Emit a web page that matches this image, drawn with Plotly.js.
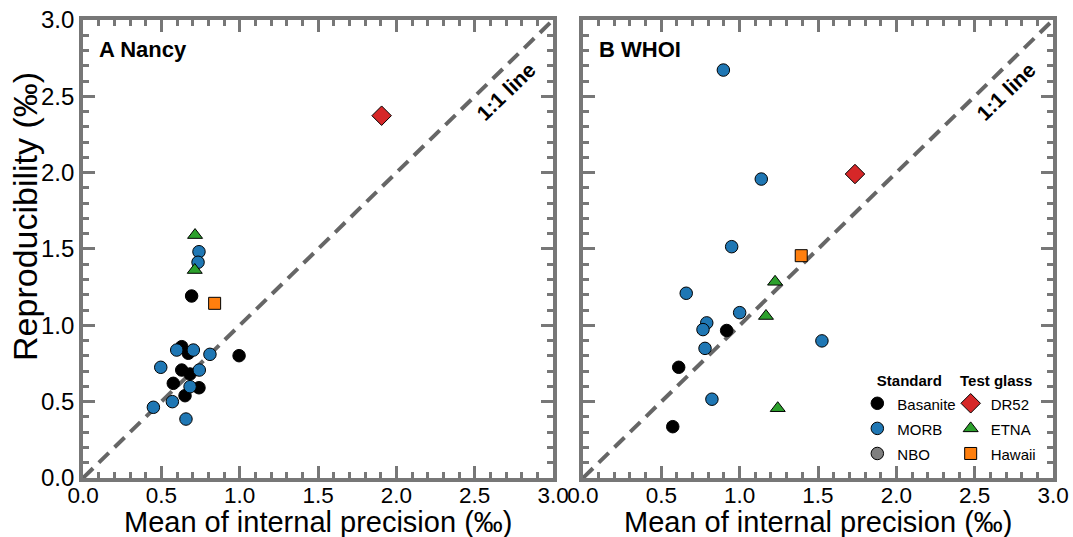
<!DOCTYPE html>
<html>
<head>
<meta charset="utf-8">
<script src="https://cdn.plot.ly/plotly-3.0.1.min.js"></script>
<style>html,body{margin:0;padding:0;background:#fff;}#chart{width:1073px;height:537px;}</style>
</head>
<body>
<div id="chart"></div>
<script>
// ---- Panel A (Nancy) ----
const A_basanite_x = [0.693, 0.630, 0.672, 0.996, 0.630, 0.683, 0.576, 0.740, 0.651];
const A_basanite_y = [1.192, 0.860, 0.817, 0.801, 0.707, 0.681, 0.620, 0.591, 0.539];
const A_morb_x = [0.740, 0.734, 0.598, 0.704, 0.810, 0.496, 0.742, 0.683, 0.570, 0.449, 0.657];
const A_morb_y = [1.482, 1.413, 0.838, 0.838, 0.810, 0.725, 0.707, 0.598, 0.500, 0.463, 0.386];
const A_dr52_x = [1.906];
const A_dr52_y = [2.373];
const A_etna_x = [0.715, 0.713];
const A_etna_y = [1.591, 1.362];
const A_hawaii_x = [0.840];
const A_hawaii_y = [1.144];

// ---- Panel B (WHOI) ----
const B_basanite_x = [0.917, 0.611, 0.573];
const B_basanite_y = [0.966, 0.725, 0.336];
const B_morb_x = [0.896, 1.138, 0.949, 0.659, 1.000, 0.790, 0.766, 1.525, 0.779, 0.823];
const B_morb_y = [2.672, 1.958, 1.515, 1.210, 1.083, 1.016, 0.972, 0.898, 0.849, 0.516];
const B_dr52_x = [1.736];
const B_dr52_y = [1.991];
const B_etna_x = [1.226, 1.168, 1.243];
const B_etna_y = [1.285, 1.061, 0.457];
const B_hawaii_x = [1.393];
const B_hawaii_y = [1.456];

// NBO appears only in the legend (no points plotted)
const NBO_x = [null];
const NBO_y = [null];

const oneToOne = [0, 3];
const tickVals = [0, 0.5, 1.0, 1.5, 2.0, 2.5, 3.0];
const tickText = ['0.0', '0.5', '1.0', '1.5', '2.0', '2.5', '3.0'];
const xTitleText = 'Mean of internal precision (‰)';
const yTitleText = 'Reproducibility (‰)';

const FONT = 'Liberation Sans, Arial, Helvetica, sans-serif';
const AX = '#777777';

const styles = {
  basanite: {name: 'Basanite', symbol: 'circle', color: '#000000', size: 12.5, legend: 'legend'},
  morb: {name: 'MORB', symbol: 'circle', color: '#1f77b4', size: 12.5, legend: 'legend'},
  nbo: {name: 'NBO', symbol: 'circle', color: '#7f7f7f', size: 12.5, legend: 'legend'},
  dr52: {name: 'DR52', symbol: 'diamond', color: '#d62728', size: 15, legend: 'legend2'},
  etna: {name: 'ETNA', symbol: 'triangle-up', color: '#2ca02c', size: 13, legend: 'legend2'},
  hawaii: {name: 'Hawaii', symbol: 'square', color: '#ff7f0e', size: 12, legend: 'legend2'}
};

function pts(key, x, y, xa, ya, show) {
  const s = styles[key];
  return {
    type: 'scatter', mode: 'markers', x: x, y: y, xaxis: xa, yaxis: ya,
    name: '<span style="font-size:15px">' + s.name + '</span>',
    legendgroup: key, showlegend: show, legend: s.legend,
    marker: {symbol: s.symbol, color: s.color, size: s.size, line: {color: '#000', width: 1}},
    hoverinfo: 'x+y'
  };
}

function line11(xa, ya) {
  return {type: 'scatter', mode: 'lines', x: oneToOne, y: oneToOne, xaxis: xa, yaxis: ya,
    showlegend: false, hoverinfo: 'skip',
    line: {color: '#666666', width: 4, dash: '14px,8px'}};
}

const data = [
  line11('x', 'y'), line11('x2', 'y2'),
  pts('basanite', A_basanite_x, A_basanite_y, 'x', 'y', false),
  pts('morb', A_morb_x, A_morb_y, 'x', 'y', false),
  pts('basanite', B_basanite_x, B_basanite_y, 'x2', 'y2', true),
  pts('morb', B_morb_x, B_morb_y, 'x2', 'y2', true),
  pts('nbo', NBO_x, NBO_y, 'x2', 'y2', true),
  pts('dr52', A_dr52_x, A_dr52_y, 'x', 'y', false),
  pts('etna', A_etna_x, A_etna_y, 'x', 'y', false),
  pts('hawaii', A_hawaii_x, A_hawaii_y, 'x', 'y', false),
  pts('dr52', B_dr52_x, B_dr52_y, 'x2', 'y2', true),
  pts('etna', B_etna_x, B_etna_y, 'x2', 'y2', true),
  pts('hawaii', B_hawaii_x, B_hawaii_y, 'x2', 'y2', true)
];

function axis(domain, anchor, isX) {
  const a = {
    domain: domain, anchor: anchor, range: [0, 3], autorange: false,
    showline: true, linecolor: AX, linewidth: 4, mirror: 'ticks',
    ticks: 'inside', ticklen: 12, tickwidth: 3, tickcolor: AX,
    tickmode: 'array', tickvals: tickVals, ticktext: tickText,
    minor: {dtick: 0.1, tick0: 0, ticks: 'inside', ticklen: 6, tickwidth: 3, tickcolor: AX},
    showgrid: false, zeroline: false,
    tickfont: {family: FONT, size: isX ? 22.5 : 24, color: '#000'},
    fixedrange: true
  };
  if (isX) a.ticklabelstandoff = -6;
  return a;
}

const xa = axis([0.0774, 0.5154], 'y', true);
const xa2 = axis([0.5433, 0.9814], 'y2', true);
const ya = axis([0.1099, 0.9628], 'x', false);
const ya2 = axis([0.1099, 0.9628], 'x2', false);
ya2.showticklabels = false;

function legendBox(x, title) {
  return {
    x: x, y: 0.318, xanchor: 'left', yanchor: 'top',
    bgcolor: 'rgba(0,0,0,0)', font: {family: FONT, size: 17},
    title: {text: '<b>' + title + '</b>', font: {family: FONT, size: 15}, side: 'top center'},
    itemwidth: 30, tracegroupgap: 0
  };
}

const layout = {
  width: 1073, height: 537,
  margin: {l: 0, r: 0, t: 0, b: 0},
  paper_bgcolor: '#fff', plot_bgcolor: '#fff',
  font: {family: FONT, color: '#000'},
  xaxis: xa, yaxis: ya, xaxis2: xa2, yaxis2: ya2,
  legend: legendBox(0.799, 'Standard'),
  legend2: legendBox(0.886, 'Test glass'),
  annotations: [
    {xref: 'paper', yref: 'paper', x: 0.0233, y: 0.596, xanchor: 'center', yanchor: 'middle',
     text: yTitleText, textangle: -90, showarrow: false,
     font: {family: FONT, size: 34, color: '#000'}},
    {xref: 'x domain', yref: 'paper', x: 0.5, y: 0, xanchor: 'center', yanchor: 'bottom', yshift: -3,
     text: xTitleText, showarrow: false, font: {family: FONT, size: 29, color: '#000'}},
    {xref: 'x2 domain', yref: 'paper', x: 0.5, y: 0, xanchor: 'center', yanchor: 'bottom', yshift: -3,
     text: xTitleText, showarrow: false, font: {family: FONT, size: 29, color: '#000'}},
    {xref: 'x domain', yref: 'y domain', x: 0.03, y: 0.935, xanchor: 'left', yanchor: 'middle',
     text: '<b>A Nancy</b>', showarrow: false, font: {family: FONT, size: 22}},
    {xref: 'x2 domain', yref: 'y2 domain', x: 0.03, y: 0.935, xanchor: 'left', yanchor: 'middle',
     text: '<b>B WHOI</b>', showarrow: false, font: {family: FONT, size: 22}},
    {xref: 'x', yref: 'y', x: 2.70, y: 2.53, text: '<b>1:1 line</b>', showarrow: false,
     textangle: -44, font: {family: FONT, size: 21}},
    {xref: 'x2', yref: 'y2', x: 2.70, y: 2.53, text: '<b>1:1 line</b>', showarrow: false,
     textangle: -44, font: {family: FONT, size: 21}}
  ]
};

Plotly.newPlot('chart', data, layout, {displayModeBar: false, staticPlot: true});
</script>
</body>
</html>
